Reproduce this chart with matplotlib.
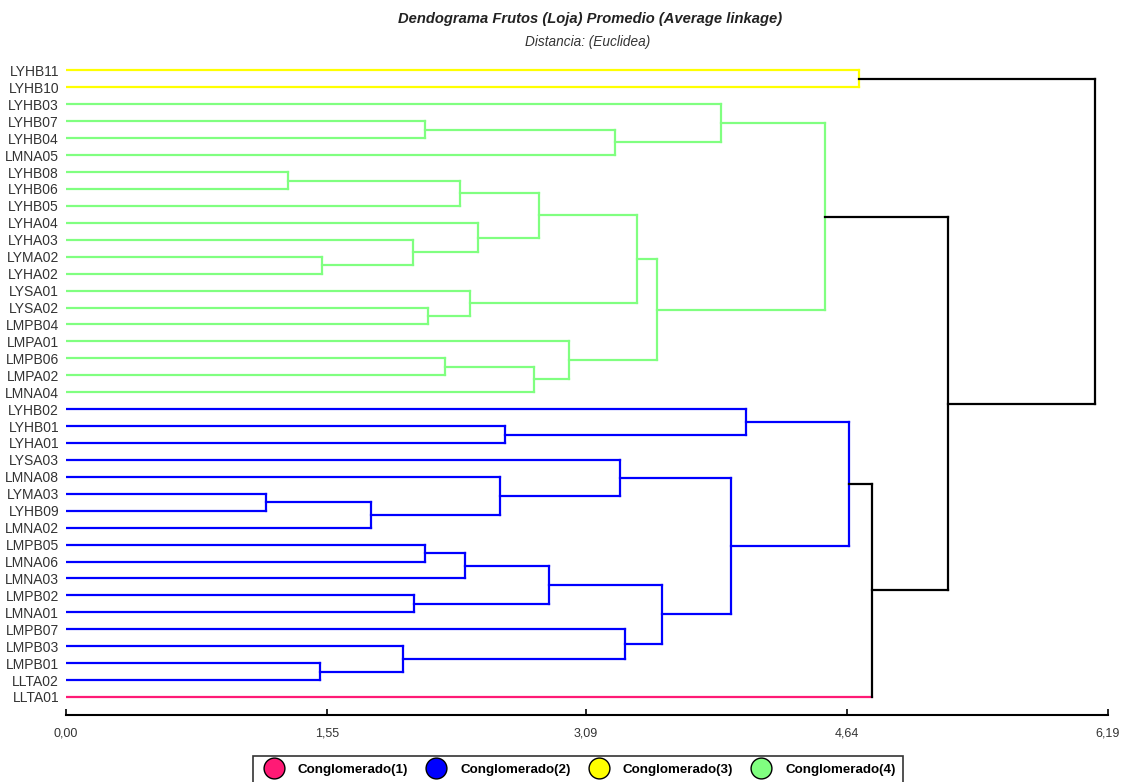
import matplotlib.pyplot as plt
from matplotlib.lines import Line2D

plt.rcParams['font.family'] = ['Liberation Sans', 'DejaVu Sans']

leaves = ["LYHB11", "LYHB10", "LYHB03", "LYHB07", "LYHB04", "LMNA05", "LYHB08",
          "LYHB06", "LYHB05", "LYHA04", "LYHA03", "LYMA02", "LYHA02", "LYSA01",
          "LYSA02", "LMPB04", "LMPA01", "LMPB06", "LMPA02", "LMNA04", "LYHB02",
          "LYHB01", "LYHA01", "LYSA03", "LMNA08", "LYMA03", "LYHB09", "LMNA02",
          "LMPB05", "LMNA06", "LMNA03", "LMPB02", "LMNA01", "LMPB07", "LMPB03",
          "LMPB01", "LLTA02", "LLTA01"]
leaf_cluster = [3, 3] + [4] * 18 + [2] * 17 + [1]

# (node, left, right, distance)
merges = [
    ("a1", "LYHB11", "LYHB10", 4.71),
    ("g1", "LYHB07", "LYHB04", 2.13),
    ("g2", "g1", "LMNA05", 3.26),
    ("g3", "LYHB03", "g2", 3.89),
    ("g4", "LYHB08", "LYHB06", 1.32),
    ("g5", "g4", "LYHB05", 2.34),
    ("g6", "LYMA02", "LYHA02", 1.52),
    ("g7", "LYHA03", "g6", 2.06),
    ("g8", "LYHA04", "g7", 2.45),
    ("g9", "g5", "g8", 2.81),
    ("g10", "LYSA02", "LMPB04", 2.15),
    ("g11", "LYSA01", "g10", 2.40),
    ("g12", "g9", "g11", 3.39),
    ("g13", "LMPB06", "LMPA02", 2.25),
    ("g14", "g13", "LMNA04", 2.78),
    ("g15", "LMPA01", "g14", 2.99),
    ("g16", "g12", "g15", 3.51),
    ("g17", "g3", "g16", 4.51),
    ("b1", "LYHB01", "LYHA01", 2.61),
    ("b2", "LYHB02", "b1", 4.04),
    ("b3", "LYMA03", "LYHB09", 1.19),
    ("b4", "b3", "LMNA02", 1.81),
    ("b5", "LMNA08", "b4", 2.58),
    ("b6", "LYSA03", "b5", 3.29),
    ("b7", "LMPB05", "LMNA06", 2.13),
    ("b8", "b7", "LMNA03", 2.37),
    ("b9", "LMPB02", "LMNA01", 2.07),
    ("b10", "b8", "b9", 2.87),
    ("b11", "LMPB01", "LLTA02", 1.51),
    ("b12", "LMPB03", "b11", 2.00),
    ("b13", "LMPB07", "b12", 3.32),
    ("b14", "b10", "b13", 3.54),
    ("b15", "b6", "b14", 3.95),
    ("b16", "b2", "b15", 4.65),
    ("c1", "b16", "LLTA01", 4.79),
    ("c2", "g17", "c1", 5.24),
    ("c3", "a1", "c2", 6.11),
]

tick_vals = [0, 1.55, 3.09, 4.64, 6.19]
tick_labels = ["0,00", "1,55", "3,09", "4,64", "6,19"]

cluster_names = ["Conglomerado(1)", "Conglomerado(2)", "Conglomerado(3)", "Conglomerado(4)"]
cluster_colors = {1: "#ff1a75", 2: "#0000ff", 3: "#ffff00", 4: "#80ff80"}

# node info: y position, height, cluster (None if mixed), is leaf
pos = {}
for i, name in enumerate(leaves):
    pos[name] = (i, 0.0, leaf_cluster[i], True)

fig = plt.figure(figsize=(11.25, 7.82), dpi=100)
ax = fig.add_axes([66 / 1125, 1 - 715 / 782, (1108 - 66) / 1125, (715 - 62) / 782])

lw = 1.6
for node, left, right, h in merges:
    yl, hl, cl, leafl = pos[left]
    yr, hr, cr, leafr = pos[right]
    cnode = cl if (cl is not None and cl == cr) else None
    col_node = cluster_colors[cnode] if cnode else "black"
    for yc, hc, cc, lf in [(yl, hl, cl, leafl), (yr, hr, cr, leafr)]:
        if cnode:
            c = col_node
        elif lf:
            c = cluster_colors[cc]
        else:
            c = "black"
        ax.plot([hc, h], [yc, yc], color=c, lw=lw, solid_capstyle='projecting')
    ax.plot([h, h], [yl, yr], color=col_node, lw=lw, solid_capstyle='projecting')
    pos[node] = ((yl + yr) / 2, h, cnode, False)

ax.set_xlim(0, 6.19)
ax.set_ylim(37 + 18 / 16.92, -0.5)
ax.set_yticks(range(len(leaves)))
ax.set_yticklabels(leaves, fontsize=10, color="#333333")
ax.tick_params(axis='y', length=0, pad=5)
ax.set_xticks(tick_vals)
ax.set_xticklabels(tick_labels, fontsize=9, color="#333333")
ax.tick_params(axis='x', direction='in', length=4, width=1.2, pad=9)
for s in ['top', 'right', 'left']:
    ax.spines[s].set_visible(False)
ax.spines['bottom'].set_linewidth(1.5)

fig.text(590 / 1125, 1 - 19 / 782, "Dendograma Frutos (Loja) Promedio (Average linkage)",
         ha='center', va='center', fontsize=10.6, fontweight='bold', fontstyle='italic',
         color="#222222")
fig.text(588 / 1125, 1 - 42 / 782, "Distancia: (Euclidea)",
         ha='center', va='center', fontsize=9.8, fontstyle='italic', color="#333333")

handles = [Line2D([], [], ls='none', marker='o', markersize=15, markerfacecolor=cluster_colors[k],
                  markeredgecolor='black', markeredgewidth=1) for k in [1, 2, 3, 4]]
leg = fig.legend(handles, cluster_names, loc='upper center', bbox_to_anchor=(578 / 1125, 1 - 756 / 782),
                 ncol=4, frameon=True, fancybox=False, edgecolor='black', handletextpad=0.8,
                 columnspacing=1.1, borderpad=0.55, borderaxespad=0,
                 prop={'weight': 'bold', 'size': 9.6})
leg.get_frame().set_linewidth(1.2)

fig.savefig("out.png", dpi=100)
